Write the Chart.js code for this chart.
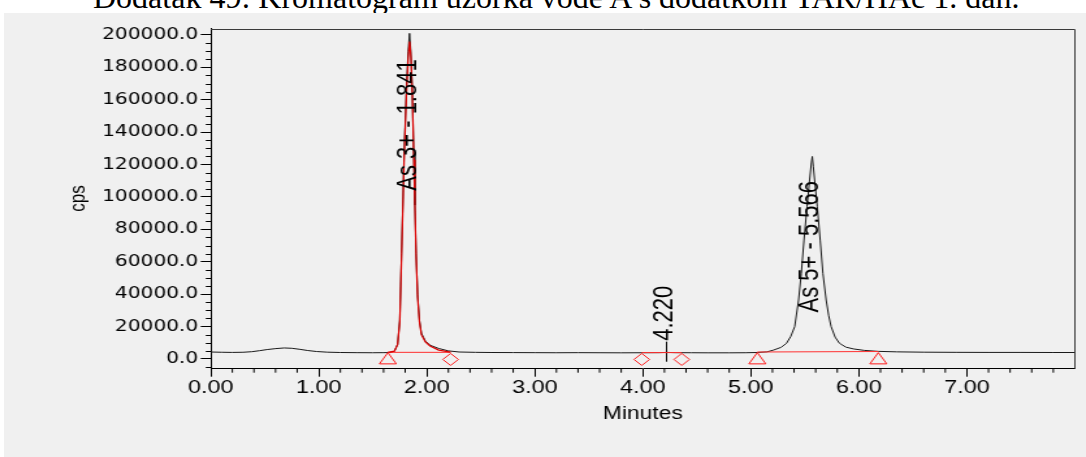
<!DOCTYPE html>
<html lang="hr">
<head>
<meta charset="UTF-8">
<title>Dodatak 49</title>
<script src="https://cdn.jsdelivr.net/npm/chart.js@4.4.1/dist/chart.umd.min.js"></script>
<style>
  html, body { margin: 0; padding: 0; background: #fff; }
  body { width: 1086px; height: 457px; position: relative; overflow: hidden; }
  #caption {
    position: absolute; left: 93px; top: -19px;
    font: 32px/32px "Liberation Serif", "Times New Roman", serif;
    white-space: nowrap; color: #000;
  }
  #chromatogram { position: absolute; left: 4px; top: 13px; background: #f0f0f0; }
</style>
</head>
<body>
<div id="caption">Dodatak 49: Kromatogram uzorka vode A s dodatkom TAR/HAc 1. dan.</div>
<!-- the exported figure is stretched sideways, so the canvas is drawn narrow and widened by css -->
<canvas id="chromatogram" width="832" height="444" style="width:1082px;height:444px"></canvas>
<script>
// detector trace: retention time (min) and signal (cps)
var traceTime = [0.00, 0.10, 0.20, 0.30, 0.38, 0.45, 0.52, 0.60, 0.68, 0.75, 0.82, 0.90, 0.98, 1.08, 1.20, 1.35, 1.50, 1.60, 1.66,
    1.70, 1.73, 1.75, 1.766, 1.78, 1.79, 1.812, 1.828, 1.840, 1.852, 1.864, 1.879, 1.890, 1.901, 1.915, 1.932, 1.950, 1.987, 2.03, 2.11, 2.20,
    2.30, 2.45, 2.60, 2.80, 3.00, 3.20, 3.40, 3.60, 3.80, 4.00, 4.15, 4.22, 4.30, 4.45, 4.60, 4.80, 4.95,
    5.06, 5.15, 5.21, 5.28, 5.33, 5.37, 5.406, 5.442, 5.467, 5.492, 5.520, 5.544, 5.560, 5.569, 5.578, 5.590, 5.615, 5.642, 5.667, 5.697, 5.72, 5.743, 5.78, 5.82, 5.88, 5.95, 6.05,
    6.18, 6.35, 6.60, 6.90, 7.20, 7.50, 7.80, 8.00];
var traceCps = [4300, 4150, 4050, 4150, 4500, 5100, 5800, 6400, 6800, 6600, 6000, 5200, 4600, 4200, 4000, 3900, 3850, 3900, 4000,
    4800, 9000, 24000, 65000, 100000, 127000, 168000, 190000, 201000, 190000, 168000, 127000, 95000, 65000, 40000, 24000, 16000, 11000, 8500, 6500, 5000,
    4300, 4100, 4000, 3950, 3900, 3850, 3900, 3850, 3800, 3850, 3900, 4050, 3900, 3850, 3800, 3800, 3850,
    4000, 4400, 5500, 7200, 9700, 14000, 20000, 36400, 52900, 73400, 94000, 110500, 121000, 125000, 119000, 110500, 94000, 73400, 52900, 36400, 27000, 20000, 13500, 9700, 7300, 6200, 5300,
    4700, 4400, 4200, 4100, 4050, 4050, 4000, 4000];

// fitted As 3+ peak
var fitTime = [1.64, 1.70, 1.73, 1.75, 1.766, 1.78, 1.79, 1.812, 1.828, 1.841, 1.854, 1.866, 1.880, 1.890, 1.902, 1.915, 1.932, 1.950, 1.987, 2.03, 2.11, 2.22];
var fitCps = [4100, 4800, 9000, 23000, 62000, 97000, 123000, 164000, 186000, 196000, 186000, 164000, 123000, 94000, 62000, 38000, 23000, 15000, 10500, 8000, 5500, 4200];

// integration baselines (start -> end of each peak)
var baseStartTime = [1.64, 3.99, 5.06];
var baseEndTime = [2.22, 4.36, 6.18];
var baseStartCps = [4100, 3950, 4300];
var baseEndCps = [4100, 3950, 4600];

// peak start / end markers
var triangleTime = [1.64, 5.06, 6.18];
var triangleCps = [-700, -700, -700];
var diamondTime = [2.22, 3.99, 4.36];
var diamondCps = [-300, -300, -300];

// small peak marker at 4.220
var markTime = [4.22, 4.22];
var markCps = [-1700, 10700];

// peak names
var peakNames = ['As 3+ - 1.841', '4.220', 'As 5+ - 5.566'];
var peakTimes = [1.841, 4.220, 5.566];

// axis ticks
var xTicks = [0, 1, 2, 3, 4, 5, 6, 7];
var yTicks = [0, 20000, 40000, 60000, 80000, 100000, 120000, 140000, 160000, 180000, 200000];

function pts(xs, ys) {
    return xs.map(function (x, i) { return { x: x, y: ys[i] }; });
}

var baseData = [];
baseStartTime.forEach(function (t, i) {
    if (i > 0) baseData.push({ x: t - 0.01, y: null });
    baseData.push({ x: t, y: baseStartCps[i] });
    baseData.push({ x: baseEndTime[i], y: baseEndCps[i] });
});

// where the rotated peak names sit (cps of the text centre)
var labelCentreCps = [144400, 28200, 69300];

var chromExtras = {
    id: 'chromExtras',
    afterDraw: function (chart) {
        var ctx = chart.ctx;
        var a = chart.chartArea;
        var xs = chart.scales.x;
        var ys = chart.scales.y;
        ctx.save();

        // frame on top and right
        ctx.strokeStyle = '#3a3a3a';
        ctx.lineWidth = 1;
        ctx.beginPath();
        ctx.moveTo(a.left, Math.round(a.top) + 0.5);
        ctx.lineTo(Math.round(a.right) - 0.5, Math.round(a.top) + 0.5);
        ctx.lineTo(Math.round(a.right) - 0.5, a.bottom);
        ctx.stroke();

        // minor ticks
        ctx.strokeStyle = '#000';
        ctx.beginPath();
        for (var v = -5000; v <= ys.max; v += 5000) {
            if (v % 20000 === 0) continue;
            var py = Math.round(ys.getPixelForValue(v)) + 0.5;
            ctx.moveTo(a.left - 3.8, py);
            ctx.lineTo(a.left, py);
        }
        for (var k = 1; k < 40; k++) {
            if (k % 5 === 0) continue;
            var px = xs.getPixelForValue(k * 0.2);
            ctx.moveTo(px, a.bottom);
            ctx.lineTo(px, a.bottom + 4);
        }
        ctx.stroke();

        // peak names, rotated
        ctx.fillStyle = '#000';
        ctx.font = '22px "Liberation Sans", Arial, sans-serif';
        ctx.textAlign = 'center';
        ctx.textBaseline = 'middle';
        peakNames.forEach(function (name, i) {
            ctx.save();
            ctx.translate(xs.getPixelForValue(peakTimes[i]) - 1.2, ys.getPixelForValue(labelCentreCps[i]));
            ctx.rotate(-Math.PI / 2);
            ctx.fillText(name, 0, 0);
            ctx.restore();
        });
        ctx.restore();
    }
};

var ctxChrom = document.getElementById('chromatogram').getContext('2d');
var chromChart = new Chart(ctxChrom, {
    type: 'line',
    data: {
        datasets: [{
            data: pts(triangleTime, triangleCps),
            showLine: false,
            pointStyle: 'triangle',
            pointRadius: 7.5,
            pointBorderColor: '#ff1a1a',
            pointBackgroundColor: 'rgba(0,0,0,0)',
            pointBorderWidth: 1,
            order: 0
        }, {
            data: pts(diamondTime, diamondCps),
            showLine: false,
            pointStyle: 'rectRot',
            pointRadius: 6,
            pointBorderColor: '#ff1a1a',
            pointBackgroundColor: 'rgba(0,0,0,0)',
            pointBorderWidth: 1,
            order: 0
        }, {
            data: pts(fitTime, fitCps),
            borderColor: '#dd0000',
            borderWidth: 1.2,
            pointRadius: 0,
            order: 1
        }, {
            data: baseData,
            borderColor: '#ff3030',
            borderWidth: 1,
            pointRadius: 0,
            spanGaps: false,
            order: 1
        }, {
            data: pts(markTime, markCps),
            borderColor: '#000',
            borderWidth: 1,
            pointRadius: 0,
            order: 1
        }, {
            data: pts(traceTime, traceCps),
            borderColor: '#1a1a1a',
            borderWidth: 1,
            pointRadius: 0,
            order: 2
        }]
    },
    options: {
        responsive: false,
        devicePixelRatio: 1,
        animation: false,
        events: [],
        layout: { padding: { top: 15.5, right: 4.3, left: 0, bottom: 0 } },
        plugins: { legend: { display: false }, tooltip: { enabled: false } },
        elements: { line: { tension: 0, fill: false } },
        scales: {
            x: {
                type: 'linear',
                min: 0,
                max: 8,
                afterBuildTicks: function (s) { s.ticks = xTicks.map(function (v) { return { value: v }; }); },
                afterFit: function (s) { s.height = 88.3; },
                grid: { drawOnChartArea: false, drawTicks: true, tickLength: 8, tickColor: '#000' },
                border: { display: true, color: '#000', width: 1 },
                ticks: {
                    autoSkip: false,
                    maxRotation: 0,
                    padding: 0.8,
                    color: '#000',
                    font: { family: '"Liberation Sans", Arial, sans-serif', size: 18 },
                    callback: function (v) { return Number(v).toFixed(2); }
                },
                title: {
                    display: true,
                    text: 'Minutes',
                    color: '#000',
                    padding: { top: 0, bottom: 32.3 },
                    font: { family: '"Liberation Sans", Arial, sans-serif', size: 17.5 }
                }
            },
            y: {
                type: 'linear',
                min: -6000,
                max: 204000,
                afterBuildTicks: function (s) { s.ticks = yTicks.map(function (v) { return { value: v }; }); },
                afterFit: function (s) { s.width = 159; },
                grid: { drawOnChartArea: false, drawTicks: true, tickLength: 7.7, tickColor: '#000' },
                border: { display: true, color: '#000', width: 1 },
                ticks: {
                    autoSkip: false,
                    padding: 1.9,
                    color: '#000',
                    font: { family: '"DejaVu Sans", sans-serif', size: 15.5 },
                    callback: function (v) { return Number(v).toFixed(1); }
                },
                title: {
                    display: true,
                    text: 'cps',
                    color: '#000',
                    padding: { top: 46.8, bottom: 0 },
                    font: { family: '"Liberation Sans", Arial, sans-serif', size: 17 }
                }
            }
        }
    },
    plugins: [chromExtras]
});
</script>
</body>
</html>
